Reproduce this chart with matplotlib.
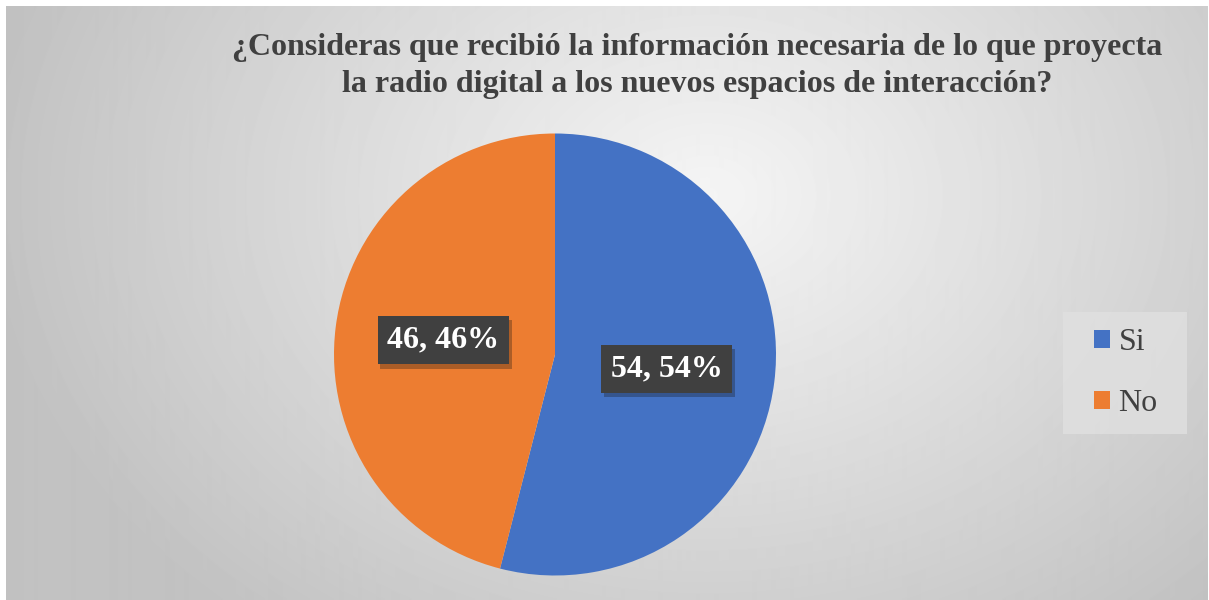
import matplotlib.pyplot as plt
import matplotlib.patheffects as pe
from matplotlib.patches import Rectangle
import numpy as np

# data
labels = ['Si', 'No']
values = [54, 46]
colors = ['#4472C4', '#ED7D31']
title = ('¿Consideras que recibió la información necesaria de lo que proyecta\n'
         'la radio digital a los nuevos espacios de interacción?')

W, H = 1209, 600
fig = plt.figure(figsize=(W / 100, H / 100), dpi=100, facecolor='white')

# radial gray background
bg = fig.add_axes([6 / W, 0, (1207 - 6) / W, (H - 6) / H])
yy, xx = np.mgrid[0:594, 0:1201]
d = np.sqrt((xx - 700) ** 2 + ((yy - 190) * 1.3) ** 2)
g = 0.96 - 0.2 * np.clip(d / 720, 0, 1)
bg.imshow(g, cmap='gray', vmin=0, vmax=1, aspect='auto', interpolation='bilinear')
bg.axis('off')

# pie
cx, cy, r = 555, 354.5, 221
ax = fig.add_axes([(cx - r) / W, (H - cy - r) / H, 2 * r / W, 2 * r / H])
ax.set_facecolor('none')
wedges, texts, autotexts = ax.pie(
    values, colors=colors, startangle=90, counterclock=False,
    autopct=lambda p: '%d, %d%%' % (round(p), round(p)), pctdistance=0.51,
    radius=1, wedgeprops=dict(linewidth=0))
ax.set_xlim(-1, 1)
ax.set_ylim(-1, 1)
for t in autotexts:
    t.set_fontfamily('Liberation Serif')
    t.set_fontweight('bold')
    t.set_fontsize(23)
    t.set_color('white')
    t.set_bbox(dict(boxstyle='square,pad=0.3', facecolor='#404040', edgecolor='none'))
    t.get_bbox_patch().set_path_effects([pe.withSimplePatchShadow(offset=(2, -3), alpha=0.3)])

fig.text(0.5765, 0.89, title, ha='center', va='center', fontsize=23,
         fontfamily='Liberation Serif', fontweight='bold', color='#404040',
         linespacing=1.35)

# legend box
fig.patches.append(Rectangle((1063 / W, 1 - 434 / H), 124 / W, 122 / H,
                             transform=fig.transFigure, facecolor='#e0e0e0',
                             edgecolor='none', alpha=0.8, zorder=1))
leg = fig.legend(wedges, labels, loc='center', bbox_to_anchor=(1126 / W, 1 - 373 / H),
                 prop={'family': 'Liberation Serif', 'size': 23}, frameon=False,
                 handlelength=0.5, handleheight=0.5, labelspacing=1.0,
                 handletextpad=0.25, borderpad=0.3)
for t in leg.get_texts():
    t.set_color('#404040')

fig.savefig('out.png', dpi=100, facecolor='white')
